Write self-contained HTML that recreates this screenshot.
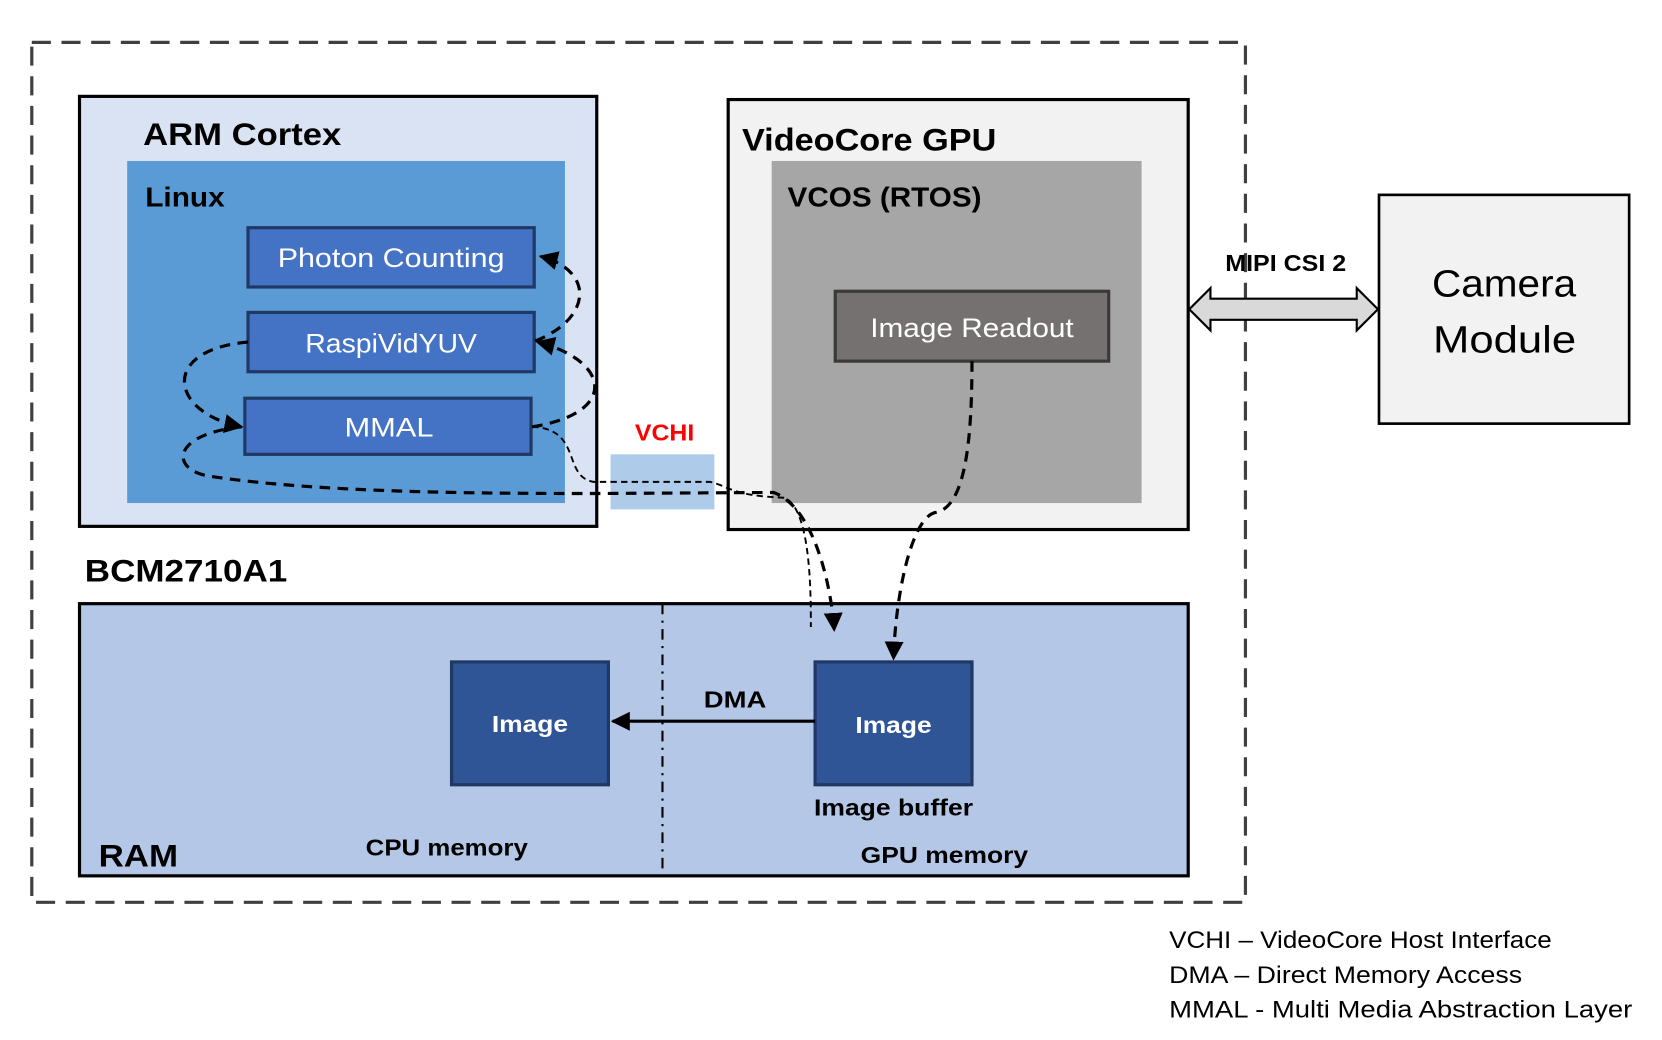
<!DOCTYPE html>
<html><head><meta charset="utf-8"><style>html,body{margin:0;padding:0;background:#fff}svg{display:block}</style></head>
<body>
<svg width="1662" height="1040" viewBox="0 0 1568 982" preserveAspectRatio="none" xmlns="http://www.w3.org/2000/svg" font-family="Liberation Sans, sans-serif">
<defs>
<marker id="ab" viewBox="0 0 10 10" refX="9" refY="5" markerWidth="18" markerHeight="18" orient="auto" markerUnits="userSpaceOnUse"><path d="M0,0 L10,5 L0,10 z" fill="#000"/></marker>
</defs>
<rect x="30" y="40" width="1145" height="812" fill="none" stroke="#404040" stroke-width="3" stroke-dasharray="18,10"/>
<rect x="75" y="91" width="488" height="406" fill="#dae3f3" stroke="#000" stroke-width="3"/>
<rect x="120" y="152" width="413" height="323" fill="#5b9bd5"/>
<rect x="234" y="215" width="270" height="56" fill="#4472c4" stroke="#203864" stroke-width="3"/>
<rect x="234" y="295" width="270" height="56" fill="#4472c4" stroke="#203864" stroke-width="3"/>
<rect x="231" y="376" width="270" height="53" fill="#4472c4" stroke="#203864" stroke-width="3"/>
<rect x="687" y="94" width="434" height="406" fill="#f2f2f2" stroke="#000" stroke-width="3"/>
<rect x="728" y="152" width="349" height="323" fill="#a6a6a6"/>
<rect x="788" y="275" width="258" height="66" fill="#767171" stroke="#3a3a3a" stroke-width="3"/>
<rect x="1301" y="184" width="236" height="216" fill="#f2f2f2" stroke="#000" stroke-width="2.5"/>
<rect x="576" y="429" width="98" height="52" fill="#aecbea"/>
<rect x="75" y="570" width="1046" height="257" fill="#b4c7e7" stroke="#000" stroke-width="3"/>
<line x1="625" y1="570" x2="625" y2="827" stroke="#000" stroke-width="2" stroke-dasharray="10,6,2,6"/>
<rect x="426" y="625" width="148" height="116" fill="#2f5597" stroke="#1f3864" stroke-width="3"/>
<rect x="769" y="625" width="148" height="116" fill="#2f5597" stroke="#1f3864" stroke-width="3"/>
<line x1="769" y1="681" x2="578" y2="681" stroke="#000" stroke-width="3" marker-end="url(#ab)"/>
<path d="M1122,292 L1142,272 L1142,282 L1280,282 L1280,272 L1300,292 L1280,312 L1280,302 L1142,302 L1142,312 Z" fill="#d9d9d9" stroke="#000" stroke-width="2"/>
<g fill="none" stroke="#000" stroke-width="3" stroke-dasharray="10,7">
<path d="M505,322 C560,300 560,255 510,242" marker-end="url(#ab)"/>
<path d="M234,323 C150,330 160,390 228,403" marker-end="url(#ab)"/>
<path d="M502,403 C585,390 575,340 507,323" marker-end="url(#ab)"/>
<path d="M228,403 C160,410 160,445 200,450 C300,465 450,466 560,466 L730,465 C770,480 785,560 787,595" marker-end="url(#ab)"/>
<path d="M917,341 C917,420 910,480 882,484 C860,490 845,560 843,622" marker-end="url(#ab)"/>
</g>
<g fill="none" stroke="#000" stroke-width="1.8" stroke-dasharray="6,4">
<path d="M502,403 C550,405 530,450 560,455 L670,455 C690,460 690,468 740,470 C765,480 765,560 765,592"/>
</g>
<g font-weight="bold" fill="#000">
<text x="135" y="137" font-size="30" textLength="187" lengthAdjust="spacingAndGlyphs">ARM Cortex</text>
<text x="137" y="195" font-size="26" textLength="75" lengthAdjust="spacingAndGlyphs">Linux</text>
<text x="700" y="142" font-size="30" textLength="240" lengthAdjust="spacingAndGlyphs">VideoCore GPU</text>
<text x="743" y="195" font-size="26" textLength="183" lengthAdjust="spacingAndGlyphs">VCOS (RTOS)</text>
<text x="1156" y="256" font-size="22" textLength="114" lengthAdjust="spacingAndGlyphs">MIPI CSI 2</text>
<text x="599" y="416" font-size="22" fill="#ff0000" textLength="56" lengthAdjust="spacingAndGlyphs">VCHI</text>
<text x="80" y="549" font-size="30" textLength="191" lengthAdjust="spacingAndGlyphs">BCM2710A1</text>
<text x="664" y="668" font-size="22" textLength="59" lengthAdjust="spacingAndGlyphs">DMA</text>
<text x="768" y="770" font-size="22" textLength="150" lengthAdjust="spacingAndGlyphs">Image buffer</text>
<text x="93" y="818" font-size="30" textLength="75" lengthAdjust="spacingAndGlyphs">RAM</text>
<text x="345" y="808" font-size="22" textLength="153" lengthAdjust="spacingAndGlyphs">CPU memory</text>
<text x="812" y="815" font-size="22" textLength="158" lengthAdjust="spacingAndGlyphs">GPU memory</text>
<text x="464" y="691" font-size="22" fill="#fff" textLength="72" lengthAdjust="spacingAndGlyphs">Image</text>
<text x="807" y="692" font-size="22" fill="#fff" textLength="72" lengthAdjust="spacingAndGlyphs">Image</text>
</g>
<g fill="#fff" font-size="25">
<text x="262" y="252" textLength="214" lengthAdjust="spacingAndGlyphs">Photon Counting</text>
<text x="288" y="333" textLength="162" lengthAdjust="spacingAndGlyphs">RaspiVidYUV</text>
<text x="325" y="412" textLength="84" lengthAdjust="spacingAndGlyphs">MMAL</text>
<text x="821" y="318" textLength="192" lengthAdjust="spacingAndGlyphs">Image Readout</text>
</g>
<g fill="#000" font-size="36">
<text x="1351" y="280" textLength="136" lengthAdjust="spacingAndGlyphs">Camera</text>
<text x="1352" y="333" textLength="135" lengthAdjust="spacingAndGlyphs">Module</text>
</g>
<g fill="#000" font-size="23">
<text x="1103" y="895" textLength="361" lengthAdjust="spacingAndGlyphs">VCHI – VideoCore Host Interface</text>
<text x="1103" y="928" textLength="333" lengthAdjust="spacingAndGlyphs">DMA – Direct Memory Access</text>
<text x="1103" y="961" textLength="437" lengthAdjust="spacingAndGlyphs">MMAL - Multi Media Abstraction Layer</text>
</g>
</svg>
</body></html>
